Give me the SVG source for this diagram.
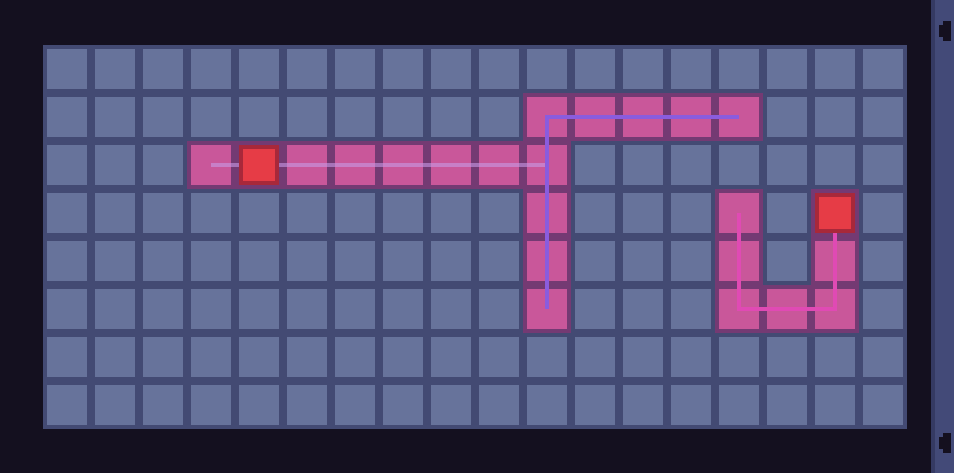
<svg xmlns="http://www.w3.org/2000/svg" width="954" height="473" viewBox="0 0 954 473">
<style>
.bg{fill:#14101f}
.gridbg{fill:#434a73}
.cell{fill:#67739b}
.pb{fill:#743a73}
.pk{fill:#c9579a}
.rb{fill:#a8283a}
.ri{fill:#e63c46}
.ln{fill:none;stroke-width:4;stroke-linecap:butt;stroke-linejoin:miter}
.notch{fill:#14101f}
</style>
<defs>
<pattern id="cells" patternUnits="userSpaceOnUse" x="43" y="45" width="48" height="48">
<rect x="4" y="4" width="40" height="40" class="cell"/>
</pattern>
</defs>
<rect class="bg" x="0" y="0" width="954" height="473"/>
<g id="grid">
<rect class="gridbg" x="43" y="45" width="864" height="384"/>
<rect x="43" y="45" width="864" height="384" fill="url(#cells)"/>
</g>
<g id="path1">
<rect class="pb" x="523" y="93" width="240" height="48"/>
<rect class="pb" x="187" y="141" width="384" height="48"/>
<rect class="pb" x="523" y="189" width="48" height="144"/>
<rect class="pk" x="527" y="97" width="40" height="40"/>
<rect class="pk" x="575" y="97" width="40" height="40"/>
<rect class="pk" x="623" y="97" width="40" height="40"/>
<rect class="pk" x="671" y="97" width="40" height="40"/>
<rect class="pk" x="719" y="97" width="40" height="40"/>
<rect class="pk" x="191" y="145" width="40" height="40"/>
<rect class="pk" x="287" y="145" width="40" height="40"/>
<rect class="pk" x="335" y="145" width="40" height="40"/>
<rect class="pk" x="383" y="145" width="40" height="40"/>
<rect class="pk" x="431" y="145" width="40" height="40"/>
<rect class="pk" x="479" y="145" width="40" height="40"/>
<rect class="pk" x="527" y="145" width="40" height="40"/>
<rect class="pk" x="527" y="193" width="40" height="40"/>
<rect class="pk" x="527" y="241" width="40" height="40"/>
<rect class="pk" x="527" y="289" width="40" height="40"/>
</g>
<g id="path2">
<rect class="pb" x="715" y="189" width="48" height="144"/>
<rect class="pb" x="763" y="285" width="48" height="48"/>
<rect class="pb" x="811" y="189" width="48" height="144"/>
<rect class="pk" x="719" y="193" width="40" height="40"/>
<rect class="pk" x="719" y="241" width="40" height="40"/>
<rect class="pk" x="719" y="289" width="40" height="40"/>
<rect class="pk" x="767" y="289" width="40" height="40"/>
<rect class="pk" x="815" y="241" width="40" height="40"/>
<rect class="pk" x="815" y="289" width="40" height="40"/>
</g>
<g id="connectors">
<path class="ln" d="M211 165H547" stroke="#c89ae6" stroke-opacity="0.6"/>
<path class="ln" d="M547 309V117H739" stroke="#8a5cde"/>
<path class="ln" d="M739 213V309H835V213" stroke="#e04ab4"/>
</g>
<g id="endpoint1">
<rect class="rb" x="239" y="145" width="40" height="40"/>
<rect class="ri" x="243" y="149" width="32" height="32"/>
</g>
<g id="endpoint2">
<rect class="rb" x="815" y="193" width="40" height="40"/>
<rect class="ri" x="819" y="197" width="32" height="32"/>
</g>
<g id="scrollbar">
<rect x="931" y="0" width="23" height="473" fill="#434a78"/>
<rect x="931" y="0" width="4" height="473" fill="#353a63"/>
<path class="notch" d="M943 21H951V41H943V37H939V25H943Z"/>
<path class="notch" d="M943 433H951V453H943V449H939V437H943Z"/>
</g>
</svg>
